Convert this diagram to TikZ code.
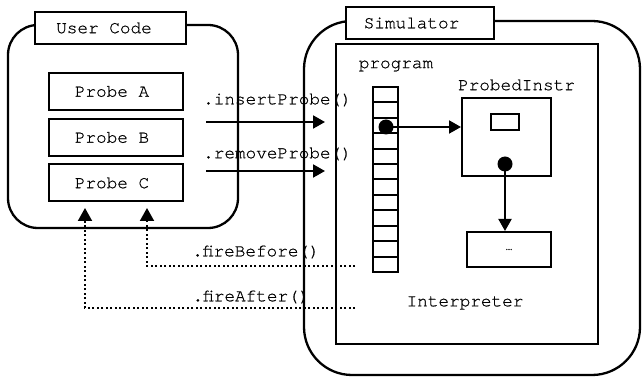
\documentclass[tikz,border=0pt]{standalone}
\usepackage{fontspec}
\setmonofont[FakeBold=0.6]{TeX Gyre Cursor}
\usetikzlibrary{arrows.meta}
\begin{document}
\begin{tikzpicture}[x=1pt,y=-1pt,
  every node/.style={font=\ttfamily\fontsize{17.7}{20}\selectfont, inner sep=0pt},
  box/.style={draw, line width=2pt, fill=white},
  region/.style={draw, line width=2.3pt, rounded corners=#1},
  arr/.style={line width=2pt, -{Triangle[length=12pt,width=13pt]}},
  dotline/.style={line width=1.9pt, dash pattern=on 1.7pt off 2.8pt, -{Triangle[length=13pt,width=14pt]}},
  dotmark/.style={circle, fill, minimum size=15pt, inner sep=0pt},
]
\useasboundingbox (0,0) rectangle (642,379);

% regions
\node[region=30pt, minimum width=230pt, minimum height=203pt] (ucr) at (123,126.5) {};
\node[region=48pt, minimum width=336pt, minimum height=354pt] (simr) at (472,198) {};
\node[box, minimum width=262pt, minimum height=300pt] (interp) at (467,194) {};

% labels of regions
\node[box, minimum width=151pt, minimum height=32pt] (ucl) at (110.5,28) {User Code\hspace*{13pt}};
\node[box, minimum width=148pt, minimum height=32pt] (siml) at (420,23) {Simulator\hspace*{17pt}};

% probes
\node[box, minimum width=134pt, minimum height=37pt] (pa) at (116,91.5) {Probe A\hspace*{8pt}};
\node[box, minimum width=134pt, minimum height=37pt] (pb) at (116,137.5) {Probe B\hspace*{8pt}};
\node[box, minimum width=134pt, minimum height=37pt] (pc) at (116,183) {Probe C\hspace*{8pt}};

% program column
\node (progl) at (396,66) {program};
\node[box, minimum width=25pt, minimum height=185pt] (col) at (385.5,179.5) {};
\foreach \i in {1,...,11} {
  \draw[line width=2pt] (373,87+\i*15.4167) -- (398,87+\i*15.4167);
}
\node[dotmark] (d1) at (386,127) {};

% probed instruction
\node (pil) at (516.5,85) {ProbedInstr};
\node[box, minimum width=89pt, minimum height=78pt] (pi) at (506.5,137) {};
\node[box, minimum width=28pt, minimum height=16pt] (sr) at (505,122) {};
\node[dotmark] (d2) at (505,164) {};
\node[box, minimum width=84pt, minimum height=35pt] (ell) at (509,249.5) {\fontsize{11}{12}\selectfont …};

\node (interpl) at (465,303) {Interpreter};

\draw[arr] (d1.center) -- (d1 -| pi.west);
\draw[arr] (d2.center) -- (d2 |- ell.north);

% calls
\coordinate (ins-s) at (206,122);
\coordinate (ins-e) at (325,122);
\coordinate (rem-s) at (206,171);
\coordinate (rem-e) at (325,171);
\draw[arr] (ins-s) -- (ins-e);
\draw[arr] (rem-s) -- (rem-e);
\node (insl) at (277.5,100) {.insertProbe()};
\node (reml) at (277.5,154) {.removeProbe()};

\coordinate (fb-s) at (355,266);
\coordinate (fb-e) at (147,208);
\coordinate (fa-s) at (355,308);
\coordinate (fa-e) at (85,208);
\draw[dotline] (fb-s) -| (fb-e);
\draw[dotline] (fa-s) -| (fa-e);
\node (fbl) at (256,252) {.fireBefore()};
\node (fal) at (251,297) {.fireAfter()};
\end{tikzpicture}
\end{document}
